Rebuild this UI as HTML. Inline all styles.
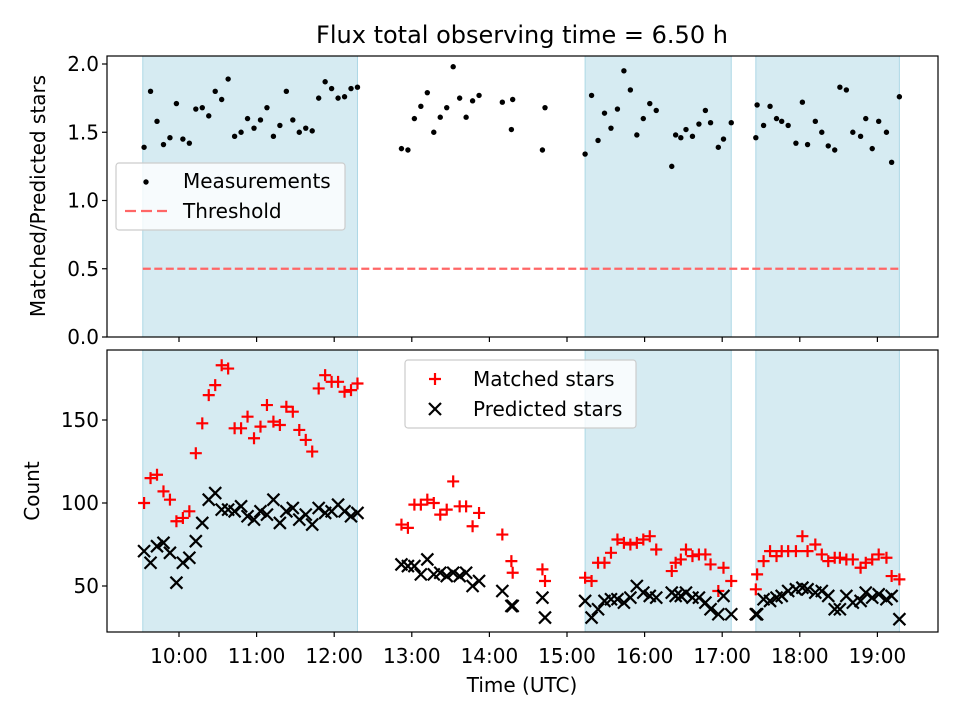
<!DOCTYPE html>
<html><head><meta charset="utf-8"><style>
body{margin:0;background:#fff;}
svg{display:block;font-family:"DejaVu Sans","Liberation Sans",sans-serif;}
</style></head><body>
<svg id="chart" width="960" height="720" viewBox="0 0 960 720" xmlns="http://www.w3.org/2000/svg">
  <text x="522" y="43" text-anchor="middle" font-size="24">Flux total observing time = 6.50 h</text>
  <text transform="translate(45,196) rotate(-90)" text-anchor="middle" font-size="20">Matched/Predicted stars</text>
  <text transform="translate(39,491) rotate(-90)" text-anchor="middle" font-size="20">Count</text>
  <text x="522" y="692" text-anchor="middle" font-size="20">Time (UTC)</text>
</svg>
<script>
// times in minutes since 10:00 UTC
const times = [-27,-22,-17,-12,-7,-2,3,8,13,18,23,28,33,38,43,48,53,58,63,68,73,78,83,88,93,98,103,108,113,118,123,128,133,138,
172,177,182,187,192,197,202,207,212,217,222,227,232,250,257,258,281,283,
314,319,324,329,334,339,344,349,354,359,364,369,381,384,388,392,397,402,407,411,417,421,427,
446,447,452,457,462,466,471,477,482,486,492,497,502,507,511,516,521,527,531,536,541,547,551,557];
const ratio = [1.39,1.80,1.58,1.41,1.46,1.71,1.45,1.42,1.67,1.68,1.62,1.80,1.74,1.89,1.47,1.50,1.60,1.53,1.59,1.68,1.47,1.55,1.80,1.59,1.50,1.53,1.51,1.75,1.87,1.82,1.75,1.76,1.82,1.83,
1.38,1.37,1.60,1.69,1.79,1.50,1.61,1.68,1.98,1.75,1.61,1.73,1.77,1.72,1.52,1.74,1.37,1.68,
1.34,1.77,1.44,1.64,1.53,1.67,1.95,1.81,1.48,1.60,1.71,1.66,1.25,1.48,1.46,1.52,1.47,1.56,1.66,1.57,1.39,1.45,1.57,
1.46,1.70,1.55,1.69,1.60,1.58,1.55,1.42,1.72,1.41,1.58,1.50,1.40,1.37,1.83,1.81,1.50,1.47,1.60,1.38,1.58,1.50,1.28,1.76];
const matched = [100,115,117,107,102,89,91,95,130,148,165,171,183,181,145,145,152,139,146,159,149,147,158,155,144,138,131,169,177,173,173,167,168,172,
87,85,99,99,102,100,93,96,113,98,98,86,94,81,65,58,60,53,
55,53,64,64,70,78,76,75,76,78,80,72,59,64,66,72,68,69,69,63,47,61,53,
48,57,65,71,68,71,71,71,80,71,75,69,65,67,67,66,66,61,64,66,69,67,56,54];
const predicted = [71,64,74,76,70,52,64,67,77,88,102,106,96,96,95,98,92,90,95,93,102,88,95,97,90,93,87,97,94,95,99,95,92,94,
63,62,62,57,66,57,58,56,58,56,58,50,53,47,38,38,43,31,
41,31,36,41,42,42,40,43,50,46,44,43,46,44,44,46,43,43,40,36,33,44,33,
33,33,42,41,43,44,47,48,49,48,46,47,44,36,36,44,40,41,46,43,45,42,44,30];
const spanStart = [-28,314,446];
const spanEnd = [138,427,557];
const xTickLabels = ["10:00","11:00","12:00","13:00","14:00","15:00","16:00","17:00","18:00","19:00"];
const xTickMins = [0,60,120,180,240,300,360,420,480,540];
const topTicks = [0,0.5,1.0,1.5,2.0];
const botTicks = [50,100,150];
const threshold = 0.5;

const NS="http://www.w3.org/2000/svg";
const svg=document.getElementById('chart');
function mk(tag,attrs,parent){const e=document.createElementNS(NS,tag);for(const k in attrs)e.setAttribute(k,attrs[k]);(parent||svg).appendChild(e);return e;}
const L=107,R=938;
const xS=m=>179+m*(77.6/60);
const T={top:56,bot:337}, B={top:350,bot:632};
const yT=v=>337-v*136.5;
const yB=v=>586-(v-50)*1.66;

function panel(P,name){
  const g=mk('g',{});
  
  
  for(let i=0;i<spanStart.length;i++){
    const r=mk('rect',{x:xS(spanStart[i]),y:P.top,width:xS(spanEnd[i])-xS(spanStart[i]),height:P.bot-P.top,fill:'#add8e6','fill-opacity':0.5,stroke:'#add8e6','stroke-width':1},g);
    
    
  }
  return g;
}
function frame(P,g){
  const f=mk('rect',{x:L,y:P.top,width:R-L,height:P.bot-P.top,fill:'none',stroke:'#000','stroke-width':1.2},g);
  
  
  xTickMins.forEach(m=>{
    mk('line',{x1:xS(m),x2:xS(m),y1:P.bot,y2:P.bot+5,stroke:'#000','stroke-width':1.2},g);
  });
}
// Top panel
const gt=panel(T,'ratio-panel');
const th=mk('line',{x1:xS(spanStart[0]),x2:xS(spanEnd[2]),y1:yT(threshold),y2:yT(threshold),stroke:'#ff6666','stroke-width':2.2,'stroke-dasharray':'8,3.5'},gt);


times.forEach((t,i)=>{
  const c=mk('circle',{cx:xS(t),cy:yT(ratio[i]),r:2.7,fill:'#000'},gt);
  
  
});
frame(T,gt);
topTicks.forEach(v=>{
  mk('line',{x1:L-5,x2:L,y1:yT(v),y2:yT(v),stroke:'#000','stroke-width':1.2},gt);
  const t=mk('text',{x:L-8,y:yT(v)+7,'text-anchor':'end','font-size':20},gt);t.textContent=v.toFixed(1);
  
  
});
// Bottom panel
const gb=panel(B,'count-panel');
times.forEach((t,i)=>{
  const x=xS(t),y=yB(matched[i]);
  const p=mk('path',{d:`M${x-6},${y}H${x+6}M${x},${y-6}V${y+6}`,stroke:'#ff0000','stroke-width':2.2,fill:'none'},gb);
  
  
});
times.forEach((t,i)=>{
  const x=xS(t),y=yB(predicted[i]);
  const p=mk('path',{d:`M${x-6},${y-6}L${x+6},${y+6}M${x-6},${y+6}L${x+6},${y-6}`,stroke:'#000','stroke-width':2.2,fill:'none'},gb);
  
  
});
frame(B,gb);
botTicks.forEach(v=>{
  mk('line',{x1:L-5,x2:L,y1:yB(v),y2:yB(v),stroke:'#000','stroke-width':1.2},gb);
  const t=mk('text',{x:L-8,y:yB(v)+7,'text-anchor':'end','font-size':20},gb);t.textContent=v;
  
  
});
xTickMins.forEach((m,i)=>{
  const t=mk('text',{x:xS(m),y:B.bot+31,'text-anchor':'middle','font-size':20},gb);t.textContent=xTickLabels[i];
  
  
});
// Legends (drawn last so they sit on top)
const lt=mk('g',{});


mk('rect',{x:116,y:163,width:229,height:67,rx:3,fill:'#fff','fill-opacity':0.8,stroke:'#ccc','stroke-width':1.2},lt);
mk('circle',{cx:146,cy:182,r:2.7,fill:'#000'},lt);
const lt1=mk('text',{x:183,y:188,'font-size':20},lt);lt1.textContent='Measurements';
mk('line',{x1:125,x2:167,y1:211,y2:211,stroke:'#ff6666','stroke-width':2.2,'stroke-dasharray':'11,5'},lt);
const lt2=mk('text',{x:183,y:218,'font-size':20},lt);lt2.textContent='Threshold';
const lb=mk('g',{});


mk('rect',{x:405,y:360,width:231,height:68,rx:3,fill:'#fff','fill-opacity':0.8,stroke:'#ccc','stroke-width':1.2},lb);
mk('path',{d:'M429,379H441M435,373V385',stroke:'#ff0000','stroke-width':2.2},lb);
const lb1=mk('text',{x:473,y:386,'font-size':20},lb);lb1.textContent='Matched stars';
mk('path',{d:'M429,403L441,415M429,415L441,403',stroke:'#000','stroke-width':2.2},lb);
const lb2=mk('text',{x:473,y:416,'font-size':20},lb);lb2.textContent='Predicted stars';
</script>
</body></html>
